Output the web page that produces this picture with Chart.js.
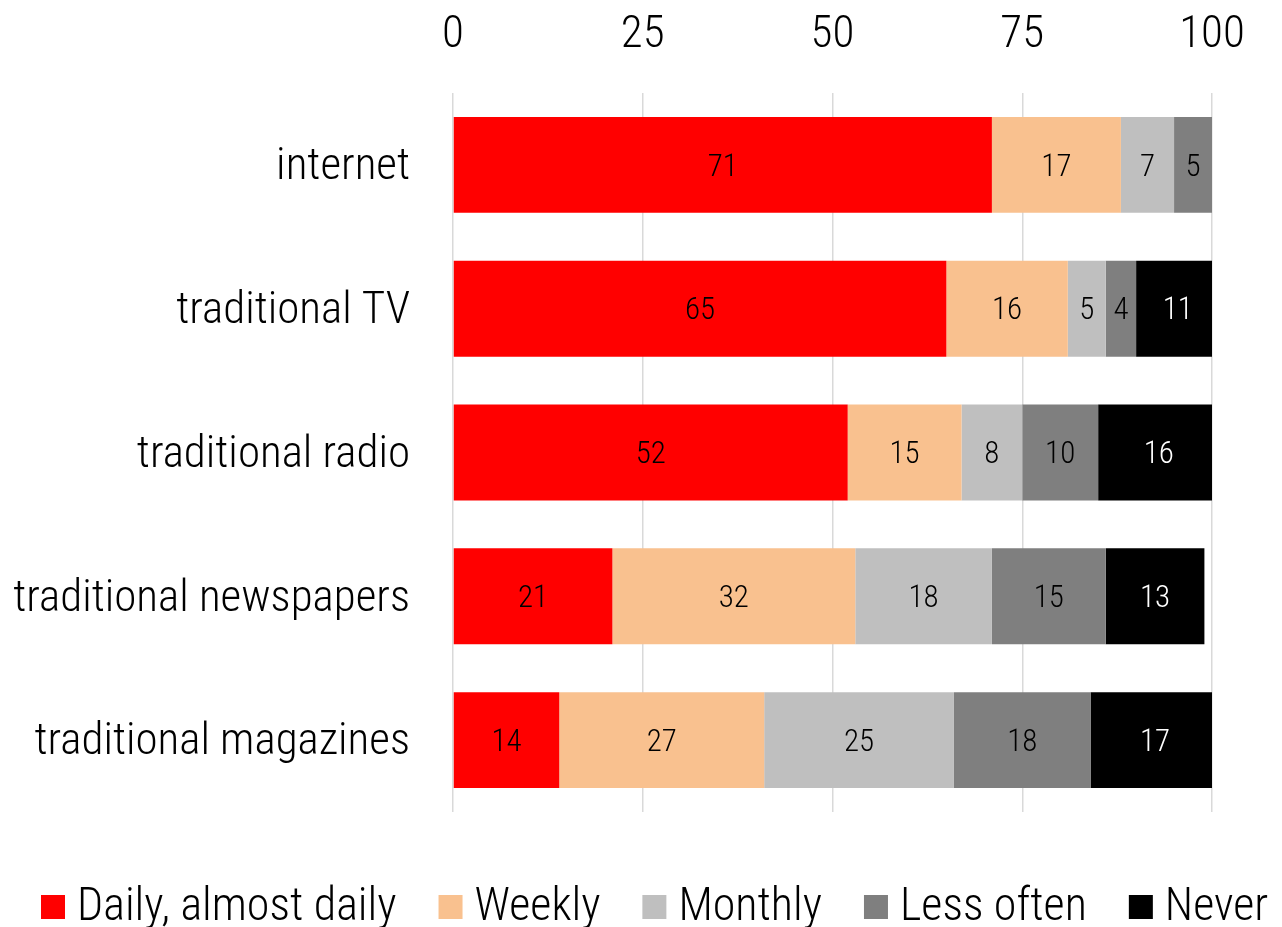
<!DOCTYPE html>
<html lang="en">
<head>
  <meta charset="UTF-8">
  <title>Media use frequency</title>
  <script src="https://cdn.jsdelivr.net/npm/chart.js@4.4.1/dist/chart.umd.min.js"></script>
  <style>
    html, body {
      margin: 0;
      padding: 0;
      background: #fff;
    }
  </style>
</head>
<body>
  <canvas id="myChart" width="1282" height="927"></canvas>

  <script>
    const categories = ['internet', 'traditional TV', 'traditional radio', 'traditional newspapers', 'traditional magazines'];
    const seriesNames = ['Daily, almost daily', 'Weekly', 'Monthly', 'Less often', 'Never'];
    const daily = [71, 65, 52, 21, 14];
    const weekly = [17, 16, 15, 32, 27];
    const monthly = [7, 5, 8, 18, 25];
    const lessOften = [5, 4, 10, 15, 18];
    const never = [null, 11, 16, 13, 17];
    const xTicks = [0, 25, 50, 75, 100];
    const seriesColors = ['#ff0000', '#f9c18f', '#bfbfbf', '#7f7f7f', '#000000'];
    const valueColors = ['#000', '#000', '#000', '#000', '#fff'];

    const FONT = '"Roboto Condensed", "DejaVu Sans Condensed", sans-serif';

    // numbers in the middle of each segment
    const barLabels = {
      id: 'barLabels',
      afterDatasetsDraw(chart) {
        const ctx = chart.ctx;
        ctx.save();
        ctx.font = '300 31px ' + FONT;
        ctx.textAlign = 'center';
        ctx.textBaseline = 'middle';
        chart.data.datasets.forEach((ds, i) => {
          const meta = chart.getDatasetMeta(i);
          meta.data.forEach((bar, j) => {
            const v = ds.data[j];
            if (v == null) return;
            ctx.fillStyle = valueColors[i];
            ctx.fillText(v, (bar.x + bar.base) / 2, bar.y + 3);
          });
        });
        ctx.restore();
      }
    };

    // legend row under the plot, square swatches close to the text
    const bottomLegend = {
      id: 'bottomLegend',
      afterDraw(chart) {
        const ctx = chart.ctx;
        ctx.save();
        ctx.font = '300 46px ' + FONT;
        ctx.textBaseline = 'middle';
        let x = 41;
        const y = 907;
        chart.data.datasets.forEach(ds => {
          ctx.fillStyle = ds.backgroundColor;
          ctx.fillRect(x, y - 12, 24, 24);
          ctx.fillStyle = '#000';
          ctx.fillText(ds.label, x + 36, y + 1);
          x += 36 + ctx.measureText(ds.label).width + 42;
        });
        ctx.restore();
      }
    };

    const series = [daily, weekly, monthly, lessOften, never];

    const ctx = document.getElementById('myChart').getContext('2d');
    const myChart = new Chart(ctx, {
      type: 'bar',
      data: {
        labels: categories,
        datasets: series.map((data, i) => ({
          label: seriesNames[i],
          data: data,
          backgroundColor: seriesColors[i],
          borderWidth: 0,
          categoryPercentage: 0.667,
          barPercentage: 1
        }))
      },
      options: {
        indexAxis: 'y',
        responsive: false,
        animation: false,
        layout: {
          padding: { left: 0, right: 70, top: 0, bottom: 115 }
        },
        plugins: {
          legend: { display: false },
          tooltip: { enabled: false }
        },
        scales: {
          x: {
            position: 'top',
            stacked: true,
            min: 0,
            max: 100,
            afterBuildTicks: scale => {
              scale.ticks = xTicks.map(v => ({ value: v }));
            },
            afterFit: scale => { scale.height = 93; },
            grid: {
              color: '#d9d9d9',
              lineWidth: 1.5,
              drawTicks: false
            },
            border: { display: false },
            ticks: {
              color: '#000',
              padding: 30,
              font: { family: FONT, size: 45, weight: '300' }
            }
          },
          y: {
            stacked: true,
            afterFit: scale => { scale.width = 453; },
            grid: { display: false, drawTicks: false },
            border: { display: false },
            ticks: {
              color: '#000',
              padding: 43,
              labelOffset: 3,
              font: { family: FONT, size: 45, weight: '300' }
            }
          }
        }
      },
      plugins: [barLabels, bottomLegend]
    });
  </script>
</body>
</html>
